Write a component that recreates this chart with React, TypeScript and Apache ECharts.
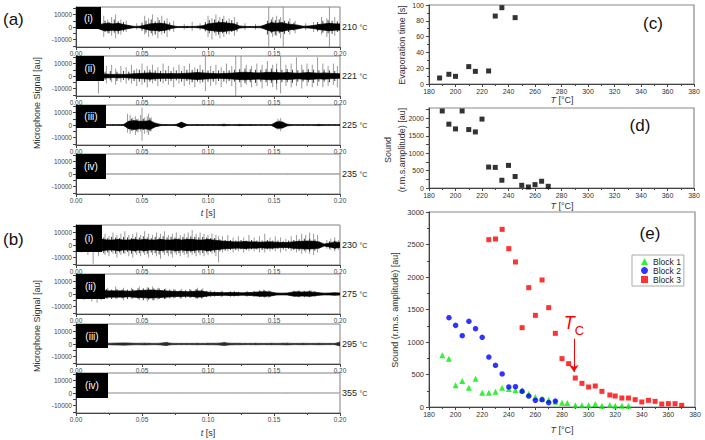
import React, { useEffect, useRef } from 'react';
import * as echarts from 'echarts';

const FONT = '"Liberation Sans", Arial, Helvetica, sans-serif';

// ---------------- microphone traces (a) and (b): envelope of dense signal, sampled evenly over 0..0.2 s ----------------
const envA1 = [1000, 1000, 1000, 1000, 1000,
  2500, 3000, 2500, 3000, 2000, 1200, 500, 600, 1500, 2500, 2800, 3000, 2500, 1200, 500,
  400, 500, 400, 600, 1000, 2500, 3000, 3500, 3500, 3000, 2500, 800, 500, 400, 500,
  600, 2000, 3500, 3000, 3500, 2500, 2000, 1500, 600, 800, 1200, 2000, 2500, 3000, 2500, 2500];
const envA2 = [1500, 1500, 1500, 1500, 1500,
  1500, 1500, 1200, 1500, 1200, 1500, 1800, 2000, 2200, 2500, 2200, 2000, 1800, 2000, 1800,
  2000, 2200, 2500, 2800, 2500, 2200, 2000, 1800, 2000, 2200, 2500, 2800, 3000, 2800, 2500,
  2500, 2800, 3000, 2800, 2500, 2800, 2500, 2200, 2500, 2800, 2500, 2200, 2500, 2200, 2000, 1800];
const envA3 = [300, 300, 300, 300, 300,
  300, 300, 300, 300, 400, 3000, 3500, 3000, 3000, 3500, 1500, 500, 400, 300, 500,
  2200, 400, 300, 400, 300, 300, 300, 300, 600, 300, 300, 500, 300, 400, 300,
  300, 300, 300, 2500, 2500, 700, 300, 300, 300, 300, 300, 500, 300, 300, 300, 300];
const envA4 = [200, 250, 200, 220, 250, 200, 230, 200, 250, 200, 220];
const envB1 = [3500, 3500, 3500, 3500, 3500,
  4500, 4000, 4000, 4500, 4000, 4000, 4500, 4000, 4500, 4000, 4000, 4500, 4000, 4000, 4500,
  4000, 4500, 4500, 4000, 4000, 4500, 4000, 3500, 3000, 2800, 2500, 2500, 2800, 2500, 2500,
  2200, 2500, 2500, 2200, 2000, 2000, 2500, 2800, 3000, 3200, 3000, 2500, 800, 1500, 2500, 2000];
const envB2 = [2500, 2500, 2500, 2500, 2500,
  3000, 2500, 2500, 2500, 2500, 2200, 2500, 2800, 3000, 3200, 3000, 2800, 2500, 2200, 2000,
  2000, 1800, 2000, 2500, 2200, 1500, 1200, 1200, 1000, 1200, 1300, 1000, 1000, 1200, 1500,
  1800, 1800, 1500, 800, 700, 800, 1500, 1800, 1500, 1800, 1500, 1000, 700, 800, 1000, 800];
const envB3 = [500, 500, 500, 500, 500,
  500, 600, 700, 800, 900, 800, 600, 600, 700, 600, 500, 700, 1200, 600, 500,
  500, 500, 500, 600, 500, 600, 600, 700, 1100, 700, 600, 600, 500, 500, 600,
  500, 500, 600, 500, 600, 700, 500, 500, 600, 500, 500, 600, 500, 500, 500, 1500];
const envB4 = [150, 180, 150, 170, 150, 160, 150, 180, 150, 170, 150];

// isolated light-grey spikes: [t (s), top, bottom]
const spikesA1 = [
  [0.021, 9000, -8000], [0.024, 6000, -5000], [0.027, 8000, -7000], [0.030, 10000, -9000], [0.034, 6000, -6000], [0.038, 5000, -4000],
  [0.046, 3000, -2000], [0.052, 9000, -6000], [0.055, 7000, -8000], [0.058, 10000, -7000], [0.062, 8000, -9000], [0.065, 9000, -6000],
  [0.069, 7000, -8000], [0.074, 5000, -4000], [0.082, 2500, -2000], [0.088, 4000, -3000], [0.094, 3000, -2500],
  [0.100, 9000, -8000], [0.103, 7000, -10000], [0.106, 10000, -7000], [0.109, 8000, -9000], [0.112, 9000, -8000], [0.116, 7000, -6000],
  [0.120, 8000, -7000], [0.128, 3000, -2500], [0.136, 2500, -2000], [0.146, 16000, -16000], [0.149, 8000, -8000], [0.152, 9000, -7000],
  [0.155, 8000, -9000], [0.157, 16000, -16000], [0.162, 7000, -6000], [0.166, 5000, -5000], [0.174, 3000, -2500], [0.180, 4000, -4000],
  [0.186, 8000, -6000], [0.190, 7000, -8000], [0.192, 16000, -16000], [0.196, 8000, -7000],
];
const spikesA2 = [
  [0.017, 2000, -14000], [0.023, 8000, -6000], [0.027, 9000, -5000], [0.030, 6000, -7000], [0.034, 8000, -5000], [0.038, 7000, -6000],
  [0.042, 9000, -6000], [0.046, 6000, -8000], [0.050, 10000, -7000], [0.054, 8000, -9000], [0.058, 9000, -6000], [0.062, 7000, -8000],
  [0.066, 10000, -6000], [0.070, 8000, -7000], [0.074, 7000, -9000], [0.078, 9000, -6000], [0.082, 8000, -8000], [0.086, 10000, -7000],
  [0.090, 7000, -9000], [0.094, 9000, -6000], [0.098, 16000, -12000], [0.102, 8000, -8000], [0.106, 9000, -7000], [0.110, 7000, -9000],
  [0.114, 10000, -6000], [0.118, 8000, -8000], [0.121, 16000, -16000], [0.125, 16000, -9000], [0.129, 9000, -7000], [0.133, 8000, -9000],
  [0.137, 10000, -8000], [0.141, 9000, -10000], [0.145, 12000, -8000], [0.149, 9000, -9000], [0.152, 10000, -11000], [0.155, 16000, -14000],
  [0.159, 9000, -8000], [0.163, 10000, -9000], [0.167, 15000, -8000], [0.171, 9000, -10000], [0.175, 10000, -8000], [0.179, 9000, -9000],
  [0.183, 15000, -8000], [0.187, 10000, -9000], [0.191, 8000, -8000], [0.195, 10000, -7000], [0.198, 8000, -9000],
];
const spikesA3 = [
  [0.039, 9000, -6000], [0.041, 8000, -7000], [0.043, 6000, -5000], [0.045, 7000, -8000], [0.047, 5000, -6000], [0.049, 8000, -5000],
  [0.050, 14000, -12500], [0.052, 6000, -7000], [0.054, 7000, -6000], [0.055, 9000, -8000], [0.057, 6000, -5000], [0.079, 2500, -2500],
  [0.153, 5000, -4000], [0.155, 5500, -5000],
];
const spikesA4: number[][] = [];
const spikesB1 = [
  [0.004, 1000, -6000], [0.009, 1000, -8000], [0.013, 1000, -15000], [0.017, 1000, -9000],
  [0.022, 9000, -8000], [0.025, 7000, -9000], [0.028, 10000, -7000], [0.031, 8000, -10000], [0.034, 9000, -8000], [0.037, 11000, -7000],
  [0.040, 8000, -9000], [0.043, 9000, -10000], [0.046, 10000, -8000], [0.049, 8000, -9000], [0.052, 11000, -8000], [0.055, 9000, -10000],
  [0.058, 8000, -8000], [0.061, 10000, -9000], [0.064, 9000, -11000], [0.067, 11000, -8000], [0.070, 8000, -9000], [0.073, 9000, -10000],
  [0.076, 10000, -8000], [0.079, 8000, -9000], [0.082, 9000, -8000], [0.085, 10000, -10000], [0.088, 12000, -8000], [0.091, 9000, -9000],
  [0.094, 10000, -8000], [0.097, 9000, -9000], [0.100, 8000, -8000], [0.103, 9000, -7000], [0.106, 8000, -9000], [0.108, 7000, -14000],
  [0.111, 7000, -6000], [0.115, 8000, -5000], [0.119, 6000, -6000], [0.123, 7000, -5000], [0.127, 6000, -6000], [0.131, 8000, -5000],
  [0.135, 6000, -5000], [0.139, 7000, -6000], [0.143, 9000, -6000], [0.147, 6000, -5000], [0.151, 7000, -5000], [0.155, 6000, -6000],
  [0.159, 5000, -5000], [0.163, 7000, -5000], [0.167, 8000, -6000], [0.171, 9000, -7000], [0.174, 8000, -6000], [0.177, 10000, -7000],
  [0.180, 9000, -8000], [0.183, 8000, -6000], [0.190, 4000, -3000], [0.193, 5000, -4000], [0.196, 6000, -5000], [0.199, 4000, -4000],
];
const spikesB2 = [
  [0.006, 1000, -5000], [0.012, 1000, -6000], [0.016, 1000, -7000], [0.019, 1000, -5000], [0.024, 5000, -4000], [0.030, 6000, -4000],
  [0.036, 5000, -5000], [0.042, 5000, -4000], [0.048, 6000, -5000], [0.054, 5500, -6000], [0.058, 6000, -5000], [0.062, 5000, -4500],
  [0.068, 4500, -4000], [0.074, 4000, -3500], [0.080, 4000, -3500], [0.086, 4000, -3000], [0.092, 5000, -4000], [0.096, 4500, -3500],
  [0.102, 3000, -2500], [0.110, 2500, -2500], [0.120, 2500, -2000], [0.130, 2500, -2000], [0.142, 3500, -2500], [0.146, 3000, -3000],
  [0.166, 2500, -2500], [0.172, 2500, -2000], [0.178, 3000, -2500],
];
const spikesB3 = [[0.069, 1800, -1500], [0.113, 1800, -1500], [0.1995, 1800, -1800]];
const spikesB4: number[][] = [];

// darker, shorter peaks inside the dense part of the signal: [t (s), top, bottom]
const darkA1 = [
  [0.022, 5000, -4000], [0.025, 4000, -5000], [0.029, 6000, -4500], [0.032, 4500, -5500], [0.036, 4000, -3500], [0.050, 3500, -3000],
  [0.053, 5000, -4500], [0.057, 6000, -5000], [0.060, 4500, -6000], [0.063, 5500, -4000], [0.067, 5000, -5000], [0.071, 3500, -3000],
  [0.098, 4000, -3500], [0.101, 5500, -5000], [0.105, 6000, -4500], [0.108, 5000, -6000], [0.111, 6500, -5000], [0.114, 5000, -5500],
  [0.118, 5500, -4000], [0.122, 4000, -3500], [0.145, 5000, -6000], [0.148, 6000, -5000], [0.151, 5500, -6500], [0.154, 6000, -5000],
  [0.158, 5000, -5500], [0.161, 4500, -4000], [0.165, 3500, -3000], [0.183, 4000, -3500], [0.187, 5000, -4500], [0.191, 5500, -5000],
  [0.194, 5000, -5500], [0.198, 4500, -4000],
];
const darkA2 = [
  [0.022, 3500, -3000], [0.026, 4000, -3500], [0.031, 3500, -4000], [0.036, 4000, -3000], [0.040, 3500, -3500], [0.044, 4500, -4000],
  [0.048, 5000, -4500], [0.052, 4500, -5000], [0.056, 5000, -4500], [0.060, 4500, -4000], [0.064, 4000, -4500], [0.068, 4500, -4000],
  [0.072, 4000, -4000], [0.076, 4500, -3500], [0.080, 4000, -4500], [0.084, 5000, -4000], [0.088, 5000, -5000], [0.092, 5500, -4500],
  [0.096, 5000, -5000], [0.100, 4500, -4500], [0.104, 4000, -4500], [0.108, 4500, -4000], [0.112, 4000, -4500], [0.116, 4500, -4000],
  [0.120, 5000, -4500], [0.124, 5500, -5000], [0.128, 6000, -5500], [0.132, 5500, -5000], [0.136, 5000, -5500], [0.140, 5000, -4500],
  [0.144, 5500, -5000], [0.148, 6000, -5500], [0.152, 5500, -6000], [0.156, 5000, -5000], [0.160, 5500, -5000], [0.164, 5000, -5500],
  [0.168, 4500, -4500], [0.172, 5000, -4500], [0.176, 5500, -5000], [0.180, 5000, -5500], [0.184, 4500, -4500], [0.188, 5000, -4500],
  [0.192, 4500, -5000], [0.196, 4000, -4000],
];
const darkA3 = [[0.042, 5000, -4500], [0.046, 4500, -5000], [0.051, 5000, -4000], [0.056, 5500, -5000], [0.154, 3500, -3000]];
const darkA4: number[][] = [];
const darkB1 = [
  [0.021, 6000, -6500], [0.024, 5500, -6000], [0.027, 6500, -5500], [0.030, 6000, -7000], [0.033, 5500, -6000], [0.036, 6500, -6500],
  [0.039, 6000, -5500], [0.042, 5500, -7000], [0.045, 6500, -6000], [0.048, 6000, -6500], [0.051, 7000, -6000], [0.054, 6000, -7000],
  [0.057, 5500, -6000], [0.060, 6500, -6500], [0.063, 6000, -7500], [0.066, 7000, -6000], [0.069, 6000, -6500], [0.072, 6500, -7000],
  [0.075, 6000, -6000], [0.078, 5500, -6500], [0.081, 6500, -6000], [0.084, 6000, -7000], [0.087, 7000, -6000], [0.090, 6500, -6500],
  [0.093, 6000, -6000], [0.096, 6500, -6500], [0.099, 6000, -6000], [0.102, 5500, -5500], [0.105, 5500, -6000], [0.109, 4500, -5000],
  [0.113, 4000, -4500], [0.117, 4000, -4000], [0.121, 3500, -4000], [0.125, 4000, -3500], [0.129, 3500, -4000], [0.133, 4000, -3500],
  [0.137, 3500, -3500], [0.141, 3500, -4000], [0.145, 4000, -3500], [0.149, 3500, -3500], [0.153, 3500, -3000], [0.157, 3000, -3500],
  [0.161, 3500, -3000], [0.165, 4000, -4000], [0.169, 4500, -4500], [0.173, 5000, -4500], [0.177, 5000, -5000], [0.181, 4500, -4500],
  [0.192, 3000, -3000], [0.196, 3500, -3500],
];
const darkB2 = [
  [0.023, 4000, -3500], [0.027, 3500, -4000], [0.031, 4000, -3500], [0.035, 3500, -3500], [0.039, 3500, -4000], [0.043, 4000, -3500],
  [0.047, 4500, -4000], [0.051, 4500, -5000], [0.055, 5000, -4500], [0.059, 4500, -5000], [0.063, 4500, -4000], [0.067, 4000, -4000],
  [0.071, 3500, -3500], [0.075, 3500, -3000], [0.079, 3000, -3500], [0.083, 3000, -3000], [0.087, 3500, -3000], [0.091, 4000, -3500],
  [0.095, 3500, -3500], [0.099, 2500, -2500], [0.105, 2000, -2000], [0.111, 2000, -1800], [0.117, 2000, -2000], [0.123, 1800, -1800],
  [0.129, 1800, -1800], [0.135, 2200, -2000], [0.139, 2800, -2500], [0.143, 3000, -2800], [0.147, 2500, -2500], [0.165, 2500, -2200],
  [0.169, 2800, -2500], [0.173, 2500, -2500], [0.177, 2800, -2500], [0.181, 2200, -2000],
];
const darkB3: number[][] = [];
const darkB4: number[][] = [];

const traceEnvelopes = [envA1, envA2, envA3, envA4, envB1, envB2, envB3, envB4];
const traceSpikes = [spikesA1, spikesA2, spikesA3, spikesA4, spikesB1, spikesB2, spikesB3, spikesB4];
const traceDark = [darkA1, darkA2, darkA3, darkA4, darkB1, darkB2, darkB3, darkB4];
const traceTemps = ['210', '221', '225', '235', '230', '275', '295', '355'];
const traceRoman = ['(i)', '(ii)', '(iii)', '(iv)', '(i)', '(ii)', '(iii)', '(iv)'];
const waveYLabels = [-10000, 0, 10000];
const waveYTicks = [-15000, -10000, -5000, 0, 5000, 10000, 15000];

// ---------------- (c) evaporation time ----------------
const tempC = [188, 195, 200, 210, 215, 225, 230, 235, 245];
const evapC = [7.6, 12.3, 9.7, 22, 16, 16.5, 86, 96.6, 84];

// ---------------- (d) sound vs T ----------------
const tempD = [190, 195, 200, 205, 210, 215, 220, 225, 230, 235, 240, 245, 250, 255, 260, 265, 270];
const soundD = [2214, 1835, 1699, 2214, 1680, 1612, 1981, 602, 592, 223, 650, 330, 78, 29, 97, 194, 49];
const soundDLabels = [0, 500, 1000, 1500, 2000];
const soundDTicks = [0, 250, 500, 750, 1000, 1250, 1500, 1750, 2000, 2250];

// ---------------- (e) blocks ----------------
const tempBlock1 = [190, 195, 200, 205, 210, 215, 220, 225, 230, 235, 240, 245, 250, 255, 260, 265, 270, 275, 280, 284, 290, 295, 300, 305, 310, 316, 320, 325, 330];
const soundBlock1 = [795, 744, 333, 400, 297, 436, 220, 220, 236, 297, 277, 256, 263, 205, 154, 128, 113, 80, 67, 62, 26, 26, 26, 46, 20, 31, 20, 20, 20];
const tempBlock2 = [195, 200, 205, 210, 215, 220, 225, 230, 235, 240, 245, 250, 255, 260, 265, 270, 275];
const soundBlock2 = [1374, 1256, 1097, 1318, 1205, 1072, 769, 641, 508, 308, 313, 241, 169, 103, 113, 67, 92];
const tempBlock3 = [225, 230, 235, 240, 245, 250, 255, 260, 265, 270, 275, 280, 285, 290, 295, 300, 305, 310, 316, 320, 325, 330, 335, 340, 345, 350, 355, 360, 365, 370];
const soundBlock3 = [2574, 2585, 2733, 2436, 2231, 1220, 1836, 1410, 1954, 1528, 1133, 744, 667, 446, 364, 308, 323, 241, 185, 169, 138, 138, 113, 77, 103, 87, 46, 51, 51, 26];
const blockNames = ['Block 1', 'Block 2', 'Block 3'];
const tcTemp = 289;
const tcArrowFrom = 1050;
const tcArrowTo = 540;

// ---------------- layout ----------------
const WL = 76, WW = 264, WH = 40;
const traceTops = [7, 56, 105, 154, 225, 274, 324, 373];
const boxW = [25, 28, 30, 30, 26, 29, 32, 32];
const boxH = [22, 25, 23, 25, 27, 25, 24, 25];
const traceColors = ['#000', '#000', '#000', '#a0a0a0', '#000', '#000', '#2a2a2a', '#aaaaaa'];

function txt(x: number, y: number, text: string, style: any = {}, rotation = 0) {
  return {
    type: 'text', x, y, rotation, z: 100, silent: true,
    style: {
      text, fontFamily: FONT, fontSize: 9, fill: '#222',
      align: 'center', verticalAlign: 'middle', textAlign: 'center', textVerticalAlign: 'middle',
      ...style,
    },
  };
}

function spikeSeries(k: number, data: number[][], color: string, width: number) {
  return {
    type: 'custom', coordinateSystem: 'cartesian2d', xAxisIndex: k, yAxisIndex: k, clip: true, silent: true,
    data,
    renderItem: (_p: any, api: any) => {
      const a = api.coord([api.value(0), api.value(1)]);
      const b = api.coord([api.value(0), api.value(2)]);
      return { type: 'line', shape: { x1: a[0], y1: a[1], x2: b[0], y2: b[1] }, style: { stroke: color, lineWidth: width } };
    },
  };
}

function buildOption() {
  const grids: any[] = [];
  const xAxes: any[] = [];
  const yAxes: any[] = [];
  const series: any[] = [];
  const graphics: any[] = [];
  const axisColor = '#444';
  const tickLabel = { fontSize: 6.5, color: '#444', fontFamily: FONT };
  const plain = (v: number) => String(v);

  traceEnvelopes.forEach((env, k) => {
    grids.push({ left: WL, top: traceTops[k], width: WW, height: WH, show: true, borderColor: '#808080', borderWidth: 1 });
    xAxes.push({
      gridIndex: k, type: 'value', min: 0, max: 0.2, interval: 0.05,
      axisLine: { show: true, onZero: false, lineStyle: { color: axisColor, width: 1 } },
      axisTick: { show: true, length: 3, lineStyle: { color: axisColor } },
      minorTick: { show: true, splitNumber: 2, length: 2, lineStyle: { color: axisColor } },
      splitLine: { show: false },
      axisLabel: { ...tickLabel, margin: 3, formatter: (v: number) => v.toFixed(2) },
    });
    yAxes.push({
      gridIndex: k, type: 'value', min: -16000, max: 16000,
      axisLine: { show: true, onZero: false, lineStyle: { color: axisColor, width: 1 } },
      axisTick: { show: true, length: 3, customValues: waveYTicks, lineStyle: { color: axisColor } },
      axisLabel: { ...tickLabel, margin: 4, customValues: waveYLabels, formatter: plain },
      splitLine: { show: false },
    });
    const n = env.length;
    const dt = 0.2 / (n - 1);
    const quads: number[][] = [];
    for (let i = 0; i < n - 1; i++) quads.push([i * dt, env[i], (i + 1) * dt, env[i + 1]]);
    series.push(spikeSeries(k, traceSpikes[k], '#808080', 0.8));
    series.push(spikeSeries(k, traceDark[k], '#111', 0.8));
    const col = traceColors[k];
    series.push({
      type: 'custom', coordinateSystem: 'cartesian2d', xAxisIndex: k, yAxisIndex: k, clip: true, silent: true,
      data: quads,
      renderItem: (_p: any, api: any) => {
        const t0 = api.value(0), a0 = api.value(1), t1 = api.value(2), a1 = api.value(3);
        const pts = [api.coord([t0, a0]), api.coord([t1, a1]), api.coord([t1, -a1]), api.coord([t0, -a0])];
        return { type: 'polygon', shape: { points: pts }, style: { fill: col, stroke: col, lineWidth: 0.7 } };
      },
    });
    const top = traceTops[k];
    graphics.push({ type: 'rect', z: 100, silent: true, shape: { x: WL, y: top, width: boxW[k], height: boxH[k] }, style: { fill: '#000' } });
    graphics.push(txt(WL + boxW[k] / 2, top + boxH[k] / 2, traceRoman[k], { fill: '#fff', fontSize: 10 }));
    graphics.push(txt(342, top + WH / 2, `{n|${traceTemps[k]}} {u|°C}`, {
      align: 'left', textAlign: 'left',
      rich: { n: { fontSize: 9, fill: '#222', fontFamily: FONT }, u: { fontSize: 7, fill: '#222', fontFamily: FONT } },
    }));
  });

  // right panels
  const rightGrids = [
    { left: 429, top: 5, width: 265, height: 79 },
    { left: 429, top: 108, width: 265, height: 80 },
    { left: 429, top: 212, width: 266, height: 195 },
  ];
  const rLabel = { fontSize: 7, color: '#333', fontFamily: FONT };
  rightGrids.forEach((g, j) => {
    const gi = 8 + j;
    grids.push({ ...g, show: true, borderColor: '#8a8a8a', borderWidth: 1.2 });
    xAxes.push({
      gridIndex: gi, type: 'value', min: 180, max: 380, interval: 20,
      axisLine: { show: true, onZero: false, lineStyle: { color: axisColor } },
      axisTick: { show: true, length: 3, lineStyle: { color: axisColor } },
      minorTick: { show: true, splitNumber: 2, length: 2, lineStyle: { color: axisColor } },
      splitLine: { show: false },
      axisLabel: { ...rLabel, margin: 4, formatter: plain },
    });
  });
  yAxes.push({
    gridIndex: 8, type: 'value', min: 0, max: 100, interval: 20,
    axisLine: { show: true, onZero: false, lineStyle: { color: axisColor } },
    axisTick: { show: true, length: 3, lineStyle: { color: axisColor } },
    minorTick: { show: true, splitNumber: 2, length: 2, lineStyle: { color: axisColor } },
    splitLine: { show: false }, axisLabel: { ...rLabel, margin: 5, formatter: plain },
  });
  yAxes.push({
    gridIndex: 9, type: 'value', min: 0, max: 2300,
    axisLine: { show: true, onZero: false, lineStyle: { color: axisColor } },
    axisTick: { show: true, length: 3, customValues: soundDTicks, lineStyle: { color: axisColor } },
    splitLine: { show: false }, axisLabel: { ...rLabel, margin: 5, customValues: soundDLabels, formatter: plain },
  });
  yAxes.push({
    gridIndex: 10, type: 'value', min: 0, max: 3000, interval: 500,
    axisLine: { show: true, onZero: false, lineStyle: { color: axisColor } },
    axisTick: { show: true, length: 3, lineStyle: { color: axisColor } },
    minorTick: { show: true, splitNumber: 2, length: 2, lineStyle: { color: axisColor } },
    splitLine: { show: false }, axisLabel: { ...rLabel, fontSize: 7.5, margin: 5, formatter: plain },
  });

  series.push({
    type: 'scatter', xAxisIndex: 8, yAxisIndex: 8, symbol: 'rect', symbolSize: 5,
    itemStyle: { color: '#000' }, data: tempC.map((t, i) => [t, evapC[i]]),
  });
  series.push({
    type: 'scatter', xAxisIndex: 9, yAxisIndex: 9, symbol: 'rect', symbolSize: 5,
    itemStyle: { color: '#000' }, data: tempD.map((t, i) => [t, soundD[i]]),
  });
  series.push({
    name: blockNames[0], type: 'scatter', xAxisIndex: 10, yAxisIndex: 10, symbol: 'triangle', symbolSize: 6,
    itemStyle: { color: '#00ee00' }, data: tempBlock1.map((t, i) => [t, soundBlock1[i]]),
  });
  series.push({
    name: blockNames[1], type: 'scatter', xAxisIndex: 10, yAxisIndex: 10, symbol: 'circle', symbolSize: 5.5,
    itemStyle: { color: '#0000ff' }, data: tempBlock2.map((t, i) => [t, soundBlock2[i]]),
  });
  series.push({
    name: blockNames[2], type: 'scatter', xAxisIndex: 10, yAxisIndex: 10, symbol: 'rect', symbolSize: 5,
    itemStyle: { color: '#ff0000' }, data: tempBlock3.map((t, i) => [t, soundBlock3[i]]),
    markLine: {
      silent: true, animation: false, symbol: ['none', 'arrow'], symbolSize: 7,
      lineStyle: { color: '#ff0000', width: 1, type: 'solid' },
      label: {
        show: true, position: 'start', distance: 2, color: '#ff0000',
        formatter: '{t|T}{c|C}',
        rich: {
          t: { fontSize: 18, fontStyle: 'italic', color: '#ff0000', fontFamily: FONT, verticalAlign: 'bottom', padding: [0, 0, 5, 0] },
          c: { fontSize: 13, color: '#ff0000', fontFamily: FONT, verticalAlign: 'bottom' },
        },
      },
      data: [[{ coord: [tcTemp, tcArrowFrom] }, { coord: [tcTemp, tcArrowTo] }]],
    },
  });

  // texts
  graphics.push(txt(3, 19, '(a)', { fontSize: 17, align: 'left', textAlign: 'left', fill: '#111' }));
  graphics.push(txt(3, 239, '(b)', { fontSize: 17, align: 'left', textAlign: 'left', fill: '#111' }));
  graphics.push(txt(37, 103, 'Microphone Signal [au]', { fontSize: 9, fill: '#333' }, Math.PI / 2));
  graphics.push(txt(37, 326, 'Microphone Signal [au]', { fontSize: 9, fill: '#333' }, Math.PI / 2));
  const tLabel = { fontSize: 9, fill: '#333', rich: { i: { fontStyle: 'italic', fontSize: 9, fill: '#333', fontFamily: FONT }, r: { fontSize: 9, fill: '#333', fontFamily: FONT } } };
  graphics.push(txt(208, 213, '{i|t} {r|[s]}', tLabel));
  graphics.push(txt(208, 433, '{i|t} {r|[s]}', tLabel));
  graphics.push(txt(562, 100, '{i|T} {r|[°C]}', tLabel));
  graphics.push(txt(562, 206, '{i|T} {r|[°C]}', tLabel));
  graphics.push(txt(562, 430, '{i|T} {r|[°C]}', tLabel));
  graphics.push(txt(402, 45, 'Evaporation time [s]', { fontSize: 9, fill: '#333' }, Math.PI / 2));
  graphics.push(txt(395, 150, 'Sound\n(r.m.s.amplitude) [au]', { fontSize: 9, fill: '#333', lineHeight: 14 }, Math.PI / 2));
  graphics.push(txt(395, 310, 'Sound (r.m.s. amplitude) [au]', { fontSize: 9, fill: '#333' }, Math.PI / 2));
  graphics.push(txt(653, 23, '(c)', { fontSize: 17, fill: '#111' }));
  graphics.push(txt(640, 125, '(d)', { fontSize: 17, fill: '#111' }));
  graphics.push(txt(650, 233, '(e)', { fontSize: 17, fill: '#111' }));

  return {
    animation: false,
    backgroundColor: '#fff',
    textStyle: { fontFamily: FONT },
    grid: grids,
    xAxis: xAxes,
    yAxis: yAxes,
    series,
    legend: {
      data: blockNames, left: 632, top: 255, orient: 'vertical', itemGap: 0, itemWidth: 7, itemHeight: 7,
      padding: [2, 3, 2, 9], borderColor: '#aaa', borderWidth: 1, backgroundColor: '#fff', selectedMode: false,
      textStyle: { fontSize: 8.5, color: '#222', fontFamily: FONT },
    },
    graphic: { elements: graphics },
  };
}

export default function App() {
  const ref = useRef<HTMLDivElement>(null);
  useEffect(() => {
    const chart = echarts.init(ref.current as HTMLDivElement, null, { renderer: 'svg' });
    chart.setOption(buildOption() as any);
    return () => chart.dispose();
  }, []);
  return <div ref={ref} style={{ position: 'fixed', left: 0, top: 0, width: 705, height: 440, background: '#fff' }} />;
}
